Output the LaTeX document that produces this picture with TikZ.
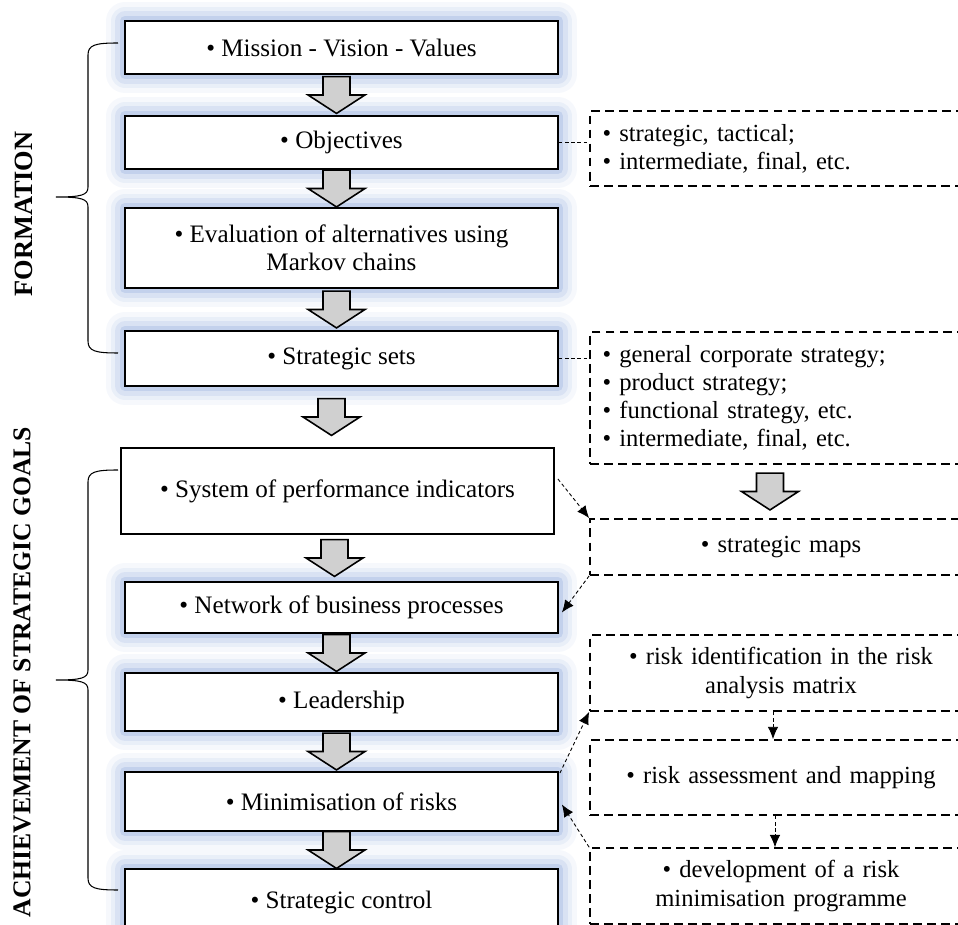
\documentclass[tikz,border=0pt]{standalone}
\usepackage{fontspec}
\setmainfont{Liberation Serif}
\usetikzlibrary{calc,arrows.meta}
\definecolor{glowblue}{RGB}{143,170,220}
\definecolor{arrgray}{RGB}{208,208,208}
\tikzset{
  mainbox/.style={draw, line width=1.1pt, fill=white, minimum width=8.66cm, align=center, font=\fontsize{14.3}{16}\selectfont, inner sep=2pt},
  glow/.style={preaction={draw=glowblue, line width=22pt, draw opacity=0.08, line join=round},
               preaction={draw=glowblue, line width=16pt, draw opacity=0.12, line join=round},
               preaction={draw=glowblue, line width=11pt, draw opacity=0.18, line join=round},
               preaction={draw=glowblue, line width=6pt, draw opacity=0.3, line join=round}},
  sidebox/.style={draw, dash pattern=on 5pt off 3pt, line width=1pt, minimum width=7.64cm, text width=7.14cm, font=\fontsize{14}{16}\selectfont, inner sep=0.25cm},
  blockarrow/.style={draw, line width=0.9pt, fill=arrgray, line join=miter},
  link/.style={dash pattern=on 2pt off 1.5pt, line width=0.5pt},
  linkarr/.style={link, -{Latex[length=7pt,width=6pt]}}
}
% block arrow half way between two nodes, optional x shift in px
\newcommand{\blockarr}[3][0]{%
  \draw[blockarrow] let \p1=($(#2.south)!0.5!(#3.north)+(#1,0)$) in
    (\x1-7.7pt,\y1+10.5pt) -- (\x1+7.7pt,\y1+10.5pt) -- (\x1+7.7pt,\y1) -- (\x1+16.2pt,\y1)
    -- (\x1,\y1-10.5pt) -- (\x1-16.2pt,\y1) -- (\x1-7.7pt,\y1) -- cycle;}

\begin{document}
\begin{tikzpicture}[x=0.02cm,y=-0.02cm]
\useasboundingbox (0,0) rectangle (958,925);

% main column
\node (m1) at (341.5,47.5) [mainbox,glow,minimum height=1.06cm] {• Mission - Vision - Values};
\node (m2) at (341.5,142.5) [mainbox,glow,minimum height=1.06cm] {• Objectives};
\node (m3) at (341.5,248) [mainbox,glow,minimum height=1.6cm] {• Evaluation of alternatives using\\ Markov chains};
\node (m4) at (341.5,358.5) [mainbox,glow,minimum height=1.1cm] {• Strategic sets};
\node (m5) at (337.5,491) [mainbox,minimum height=1.72cm] {• System of performance indicators};
\node (m6) at (341.5,607.5) [mainbox,glow,minimum height=1.02cm] {• Network of business processes};
\node (m7) at (341.5,702) [mainbox,glow,minimum height=1.16cm] {• Leadership};
\node (m8) at (341.5,801.5) [mainbox,glow,minimum height=1.18cm] {• Minimisation of risks};
\node (m9) at (341.5,902) [mainbox,glow,minimum height=1.32cm] {• Strategic control};

\blockarr[-5]{m1}{m2}
\blockarr[-5]{m2}{m3}
\blockarr[-5]{m3}{m4}
\blockarr[-8]{m4}{m5}
\blockarr[-5]{m5}{m6}
\blockarr[-5]{m6}{m7}
\blockarr[-5]{m7}{m8}
\blockarr[-5]{m8}{m9}

% side boxes
\node (A) at (781,148.5) [sidebox,minimum height=1.5cm,align=left] {• strategic, tactical;\\ • intermediate, final, etc.};
\node (B) at (781,398) [sidebox,minimum height=2.64cm,align=left] {• general corporate strategy;\\ • product strategy;\\ • functional strategy, etc.\\ • intermediate, final, etc.};
\node (C) at (781,547) [sidebox,minimum height=1.12cm,align=center] {• strategic maps};
\node (D) at (781,673) [sidebox,minimum height=1.52cm,align=center] {• risk identification in the risk\\ analysis matrix};
\node (E) at (781,777.5) [sidebox,minimum height=1.5cm,align=center] {• risk assessment and mapping};
\node (F) at (781,886) [sidebox,minimum height=1.48cm,align=center] {• development of a risk\\ minimisation programme};

\blockarr[-11]{B}{C}

\draw[link] (m2.east) -- (m2.east -| A.west);
\draw[link] (m4.east) -- (m4.east -| B.west);
\draw[linkarr] ($(m5.east)+(3,-12)$) -- (C.north west);
\draw[linkarr] (C.south west) -- ($(m6.east)+(3,5)$);
\draw[linkarr] ($(m8.north east)+(1,2)$) -- (D.south west);
\draw[linkarr] (F.north west) -- ($(m8.east)+(3,3)$);
\draw[linkarr] ($(D.south)+(-8,0)$) -- ($(E.north)+(-8,0)$);
\draw[linkarr] ($(E.south)+(-6,0)$) -- ($(F.north)+(-6,0)$);

% braces and labels
\draw[line width=0.6pt] (118,43) .. controls (95,43) and (88,45) .. (88,55) -- (88,187)
  .. controls (88,195) and (82,197) .. (56,197) .. controls (82,197) and (88,199) .. (88,207)
  -- (88,341) .. controls (88,351) and (95,353) .. (118,353);
\draw[line width=0.6pt] (118,470) .. controls (95,470) and (88,472) .. (88,482) -- (88,670)
  .. controls (88,678) and (82,680) .. (56,680) .. controls (82,680) and (88,682) .. (88,690)
  -- (88,878) .. controls (88,888) and (95,890) .. (118,890);
\node (form) at (24,214) [rotate=90,font=\fontsize{15}{17}\selectfont\bfseries] {FORMATION};
\node (ach) at (22,672) [rotate=90,font=\fontsize{14.6}{17}\selectfont\bfseries] {ACHIEVEMENT OF STRATEGIC GOALS};
\end{tikzpicture}
\end{document}
